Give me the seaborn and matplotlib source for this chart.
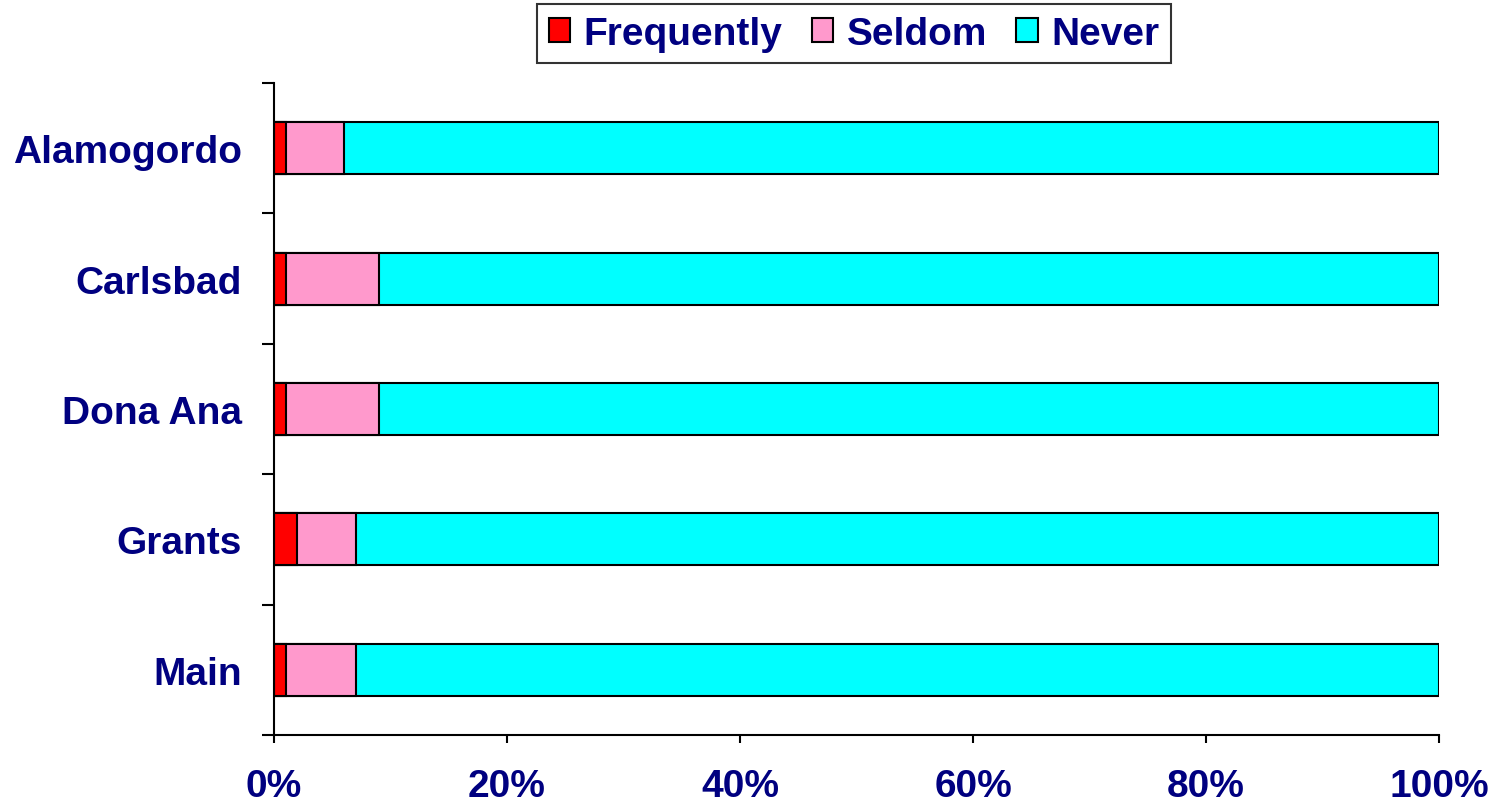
import matplotlib
matplotlib.use("Agg")
import matplotlib.pyplot as plt
import seaborn as sns
import pandas as pd
import numpy as np
from matplotlib.patches import Patch

# datos
sedes = ["Alamogordo", "Carlsbad", "Dona Ana", "Grants", "Main"]
frequently = [1, 1, 1, 2, 1]
seldom = [5, 8, 8, 5, 6]
never = [94, 91, 91, 93, 93]

series = ["Frequently", "Seldom", "Never"]
colores = ["#FF0000", "#FF99CC", "#00FFFF"]
navy = "#000080"

df = pd.DataFrame({"sede": sedes, "Frequently": frequently, "Seldom": seldom, "Never": never})
# acumulados para apilar (se dibuja del mayor al menor)
df["c_freq"] = df["Frequently"]
df["c_seldom"] = df["Frequently"] + df["Seldom"]
df["c_never"] = df["c_seldom"] + df["Never"]

sns.set_style("white")
plt.rcParams["font.family"] = ["Liberation Sans", "DejaVu Sans"]

fig = plt.figure(figsize=(15.01, 8.04), dpi=100)
ax = fig.add_axes([274 / 1501, 68 / 804, (1439 - 274) / 1501, (736 - 84) / 804])

for col, color in zip(["c_never", "c_seldom", "c_freq"], colores[::-1]):
    sns.barplot(data=df, x=col, y="sede", color=color, width=0.4,
                edgecolor="black", linewidth=1.5, saturation=1, ax=ax)

ax.set_xlim(0, 100)
ax.set_ylim(4.5, -0.5)
ax.set_xlabel("")
ax.set_ylabel("")

ax.set_xticks([0, 20, 40, 60, 80, 100])
ax.set_xticklabels([f"{v}%" for v in [0, 20, 40, 60, 80, 100]])
ax.set_yticks(range(len(sedes)))
ax.set_yticklabels(sedes)
ax.set_yticks(np.arange(-0.5, 5, 1), minor=True)

ax.tick_params(axis="x", direction="out", length=6, width=1.5, color="black", pad=18,
               labelsize=28, labelcolor=navy, bottom=True)
ax.tick_params(axis="y", which="major", length=0, pad=23, labelsize=28, labelcolor=navy)
ax.tick_params(axis="y", which="minor", direction="out", length=9, width=1.5, color="black", left=True)
for lbl in ax.get_xticklabels() + ax.get_yticklabels():
    lbl.set_fontweight("bold")

for s in ["top", "right"]:
    ax.spines[s].set_visible(False)
for s in ["left", "bottom"]:
    ax.spines[s].set_color("black")
    ax.spines[s].set_linewidth(1.5)

handles = [Patch(facecolor=c, edgecolor="black", linewidth=1.5, label=l) for l, c in zip(series, colores)]
leg = fig.legend(handles=handles, loc="upper center", bbox_to_anchor=(854 / 1501, 1 - 5 / 804),
                 ncol=3, frameon=True, fancybox=False, shadow=False, edgecolor="black",
                 prop={"size": 28, "weight": "bold"}, handlelength=0.55, handleheight=0.55,
                 handletextpad=0.35, columnspacing=0.75, borderpad=0.3, borderaxespad=0)
leg.get_frame().set_linewidth(1.5)
for t in leg.get_texts():
    t.set_color(navy)

plt.savefig("out.png", dpi=100, facecolor="white")
